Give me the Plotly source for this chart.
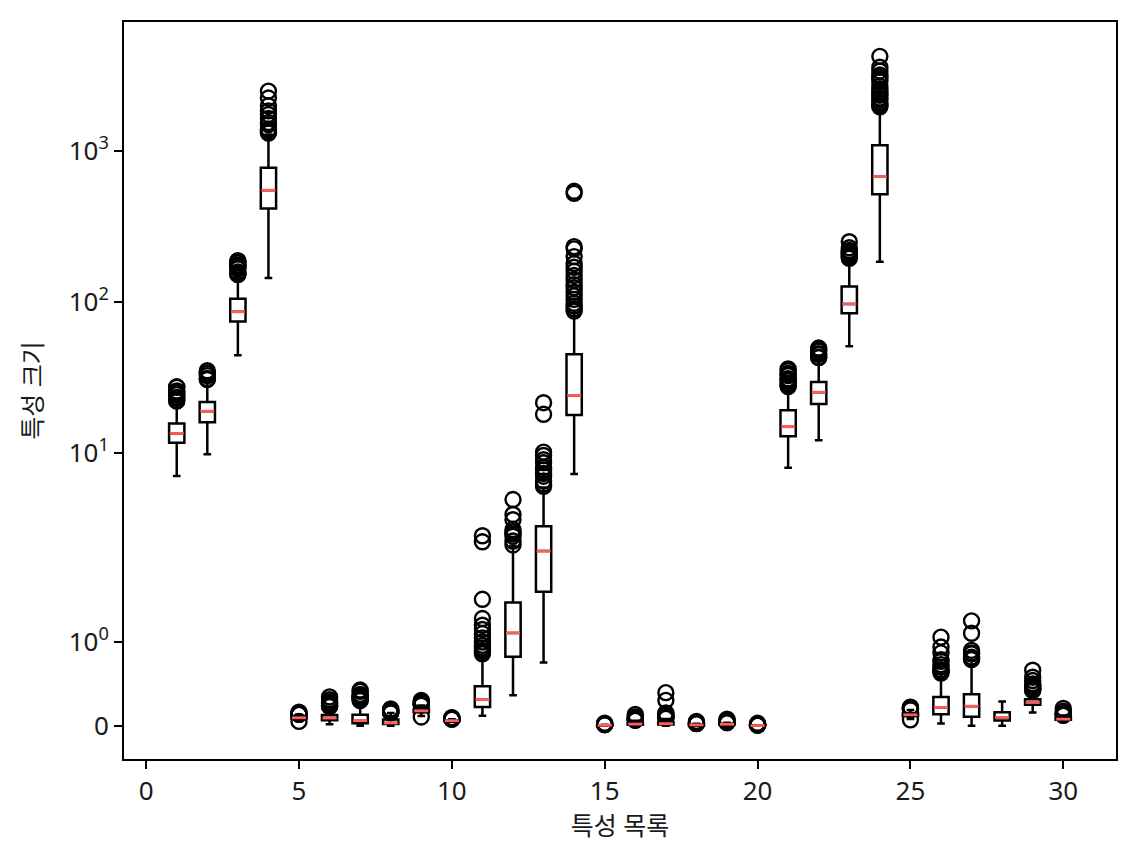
import numpy as np
import plotly.graph_objects as go

# box statistics per feature (raw feature units)
positions = list(range(1, 31))
q1 = [11.65, 15.97, 74.2, 416, 0.0864, 0.065, 0.0296, 0.0203, 0.162, 0.0577,
      0.225, 0.824, 1.60, 17.8, 0.0052, 0.0131, 0.0151, 0.0076, 0.0152, 0.0022,
      12.9, 21.1, 84.2, 518, 0.1166, 0.139, 0.107, 0.0649, 0.2504, 0.0715]
med = [13.44, 18.88, 86.1, 551, 0.0959, 0.093, 0.0615, 0.0335, 0.179, 0.0615,
       0.314, 1.109, 2.23, 24.0, 0.0064, 0.0205, 0.0259, 0.0109, 0.0187, 0.0032,
       14.87, 25.2, 97.1, 681, 0.1313, 0.219, 0.234, 0.0999, 0.278, 0.0800]
q3 = [15.66, 21.75, 104.9, 776, 0.1053, 0.130, 0.1307, 0.074, 0.196, 0.0661,
      0.472, 1.471, 3.26, 45.0, 0.0081, 0.0325, 0.042, 0.0147, 0.0235, 0.0046,
      19.16, 29.5, 126.5, 1093, 0.146, 0.345, 0.377, 0.1614, 0.3179, 0.0921]
whisker_lo = [7.02, 9.77, 44.3, 144.3, 0.0577, 0.0194, 0.0, 0.0, 0.1167, 0.05,
              0.119, 0.365, 0.757, 7.25, 0.0017, 0.0023, 0.0, 0.0, 0.0079, 0.0009,
              7.97, 12.1, 50.8, 185, 0.0812, 0.028, 0.0, 0.0, 0.159, 0.055]
whisker_hi = [21.6, 29.8, 147, 1290, 0.1326, 0.2264, 0.2810, 0.1533, 0.2439, 0.0786,
              0.84, 2.42, 5.9, 85, 0.0124, 0.0608, 0.0820, 0.0253, 0.0359, 0.0079,
              27.3, 42.0, 188, 1950, 0.188, 0.62, 0.78, 0.291, 0.417, 0.123]
outliers = [
    [22.0, 22.3, 23.1, 23.3, 24.3, 24.6, 25.2, 25.7, 27.2, 27.4],
    [30.6, 31.1, 32.5, 33.6, 33.8, 35.0],
    [152, 153, 155, 158, 166, 171, 174, 176, 182, 186, 188],
    [1320, 1340, 1380, 1400, 1500, 1550, 1650, 1750, 1850, 2000, 2250, 2500],
    [0.0526, 0.1371, 0.1398, 0.1425, 0.1447, 0.1634],
    [0.2293, 0.2364, 0.2396, 0.2413, 0.2665, 0.2776, 0.2839, 0.3114, 0.3454],
    [0.3001, 0.3130, 0.3189, 0.3339, 0.3368, 0.3523, 0.3635, 0.3754, 0.4108, 0.4268],
    [0.1562, 0.1595, 0.1604, 0.1620, 0.1689, 0.1823, 0.1845, 0.1878, 0.2012],
    [0.1060, 0.2459, 0.2548, 0.2556, 0.2597, 0.2678, 0.2743, 0.2906, 0.3040],
    [0.0797, 0.0806, 0.0820, 0.0898, 0.0944, 0.0974],
    [0.86, 0.88, 0.90, 0.93, 0.96, 1.00, 1.05, 1.10, 1.15, 1.20, 1.28, 1.51, 2.57, 2.82],
    [2.45, 2.60, 2.80, 2.90, 3.00, 3.10, 3.60, 3.90, 4.90],
    [6.0, 6.2, 6.5, 7.0, 7.3, 7.7, 8.0, 8.6, 9.0, 9.6, 10.1, 18.0, 21.5],
    [87, 90, 94, 98, 104, 110, 116, 124, 130, 140, 150, 160, 170, 180, 200, 225, 233, 525, 542],
    [0.0133, 0.0150, 0.0172, 0.0208, 0.0231, 0.0311],
    [0.0646, 0.0705, 0.0727, 0.0813, 0.0895, 0.1006, 0.1064, 0.1354],
    [0.0889, 0.0950, 0.1040, 0.1091, 0.1197, 0.1438, 0.1535, 0.3038, 0.3960],
    [0.0262, 0.0279, 0.0306, 0.0410, 0.0528],
    [0.0375, 0.0419, 0.0446, 0.0547, 0.0598, 0.0790],
    [0.0085, 0.0096, 0.0123, 0.0128, 0.0179, 0.0298],
    [27.5, 28.0, 28.4, 29.0, 30.0, 30.7, 31.0, 32.5, 33.1, 33.6, 35.0, 36.0],
    [42.8, 43.0, 44.9, 45.4, 47.2, 48.5, 49.5],
    [195, 199, 205, 211, 215, 220, 229, 251],
    [1970, 2000, 2050, 2100, 2200, 2250, 2350, 2400, 2500, 2600, 2700, 2900,
     3000, 3100, 3200, 3400, 3600, 4254],
    [0.0712, 0.1917, 0.1949, 0.2006, 0.2098, 0.2184, 0.2226],
    [0.63, 0.65, 0.66, 0.67, 0.70, 0.73, 0.77, 0.79, 0.87, 0.94, 1.058],
    [0.79, 0.80, 0.82, 0.86, 0.87, 0.90, 1.105, 1.252],
    [],
    [0.42, 0.43, 0.44, 0.45, 0.46, 0.48, 0.49, 0.50, 0.54, 0.58, 0.6638],
    [0.1249, 0.1284, 0.1364, 0.1431, 0.1486, 0.1730, 0.2075],
]
y_tick_values = [0, 1, 10, 100, 1000]
y_tick_labels = ["0", "10<sup>0</sup>", "10<sup>1</sup>", "10<sup>2</sup>", "10<sup>3</sup>"]


def symlog(v, linthresh=2.0, base=10.0):
    # same mapping as matplotlib's symlog scale (linscale=1)
    v = np.asarray(v, dtype=float)
    adj = 1.0 / (1.0 - 1.0 / base)
    a = np.maximum(np.abs(v), 1e-12)
    out = np.sign(v) * linthresh * (adj + np.log10(a / linthresh) / np.log10(base))
    return np.where(np.abs(v) <= linthresh, v * adj, out)


FONT = "Noto Sans, Noto Sans CJK KR"
TEXT = "#1a1a1a"
box_w = 0.5

fig = go.Figure()
fig.add_trace(go.Box(
    x=positions,
    q1=symlog(q1), median=symlog(med), q3=symlog(q3),
    lowerfence=symlog(whisker_lo), upperfence=symlog(whisker_hi),
    orientation="v", width=box_w, whiskerwidth=0.5,
    boxpoints=False, fillcolor="white",
    line=dict(color="black", width=2.5),
    showlegend=False, hoverinfo="skip",
))

# outliers as open circles
ox, oy = [], []
for p, vals in zip(positions, outliers):
    ox += [p] * len(vals)
    oy += list(vals)
fig.add_trace(go.Scatter(
    x=ox, y=symlog(oy), mode="markers",
    marker=dict(symbol="circle-open", size=15, color="black", line=dict(width=2.4)),
    showlegend=False, hoverinfo="skip",
))

# red median lines
mx, my = [], []
for p, m in zip(positions, symlog(med)):
    mx += [p - box_w / 2 + 0.02, p + box_w / 2 - 0.02, None]
    my += [m, m, None]
fig.add_trace(go.Scatter(
    x=mx, y=my, mode="lines", line=dict(color="#ff5c5c", width=2.8),
    showlegend=False, hoverinfo="skip",
))

axis_common = dict(
    showline=True, mirror=True, linecolor="black", linewidth=1.8,
    ticks="outside", ticklen=8, tickwidth=1.8, tickcolor="black",
    showgrid=False, zeroline=False,
    tickfont=dict(family=FONT, size=26, color=TEXT),
)
fig.update_xaxes(
    range=[-0.725, 31.725], tickvals=[0, 5, 10, 15, 20, 25, 30],
    title=dict(text="특성 목록", font=dict(family=FONT, size=25, color=TEXT), standoff=7),
    **axis_common,
)
fig.update_yaxes(
    range=[-0.44, 9.333], tickvals=symlog(y_tick_values), ticktext=y_tick_labels,
    title=dict(text="특성 크기", font=dict(family=FONT, size=25, color=TEXT), standoff=19),
    **axis_common,
)
# page body has an 8px margin, so the figure is shifted by that much
fig.update_layout(
    width=1127, height=854,
    margin=dict(l=116, r=19, t=12, b=103),
    plot_bgcolor="white", paper_bgcolor="white",
    font=dict(family=FONT),
)
fig.write_html("out.html")
